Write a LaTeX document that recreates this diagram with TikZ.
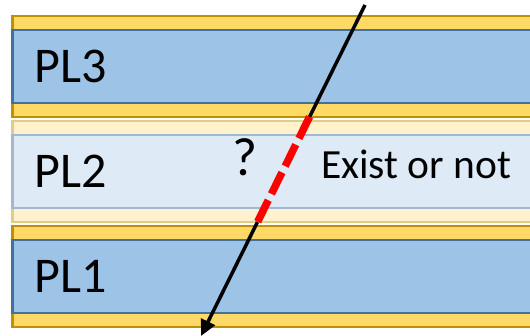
\documentclass[tikz,border=0pt]{standalone}
\usepackage{fontspec}
\setmainfont{Carlito}
\usetikzlibrary{arrows.meta,calc}
\definecolor{mygold}{RGB}{255,217,102}
\definecolor{mydarkgold}{RGB}{191,144,0}
\definecolor{mypaleyellow}{RGB}{255,242,204}
\definecolor{mypalegold}{RGB}{226,204,140}
\definecolor{myblue}{RGB}{157,195,230}
\definecolor{mydarkblue}{RGB}{65,113,156}
\definecolor{mypaleblue}{RGB}{222,235,247}
\definecolor{mygreyblue}{RGB}{160,184,210}
\newcommand{\heightshell}{101pt}
\newcommand{\heightcore}{73pt}
\tikzset{
    common/.style={anchor=north west, rectangle, minimum width=540pt, inner sep=0pt, line width=2.5pt},
    shell/.style={common, draw=mydarkgold, fill=mygold, minimum height=\heightshell},
    core/.style={common, draw=mydarkblue, fill=myblue, minimum height=\heightcore},
    paleshell/.style={shell, draw=mypalegold, fill=mypaleyellow},
    palecore/.style={core, draw=mygreyblue, fill=mypaleblue},
    platetag/.style={anchor=west, inner sep=0pt, font=\fontsize{50}{50}\selectfont},
    note/.style={inner sep=0pt, font=\fontsize{41.5}{41.5}\selectfont},
    wire/.style={black, line width=3.5pt},
    gapline/.style={red, line width=7.5pt, dash pattern=on 24pt off 7pt}
}

\begin{document}
\begin{tikzpicture}[x=1pt, y=-1pt]
    \clip (0,0) rectangle (530,336);
    % plates
    \node[shell] (shell3) at (11,15) {};
    \node[core] (core3) at (11,29) {};
    \node[paleshell] (shell2) at (11,120) {};
    \node[palecore] (core2) at (11,134) {};
    \node[shell] (shell1) at (11,225) {};
    \node[core] (core1) at (11,239) {};

    \node[platetag] (pl3) at (34,66) {PL3};
    \node[platetag] (pl2) at (34,171) {PL2};
    \node[platetag] (pl1) at (34,276) {PL1};
    \node[note, font=\fontsize{54}{54}\selectfont] (ask) at (245,157) {?};
    \node[note, anchor=west] (exist) at (321,164) {Exist or not};

    % ray
    \coordinate (top) at (365,5);
    \coordinate (tip) at (201,336);
    \coordinate (in) at ($(top)!0.338!(tip)$);
    \coordinate (out) at ($(top)!0.656!(tip)$);
    \draw[wire] (top) -- (in);
    \draw[wire, -{Triangle[length=16pt, width=15pt]}] (out) -- (tip);
    \draw[gapline] (in) -- (out);
\end{tikzpicture}
\end{document}
